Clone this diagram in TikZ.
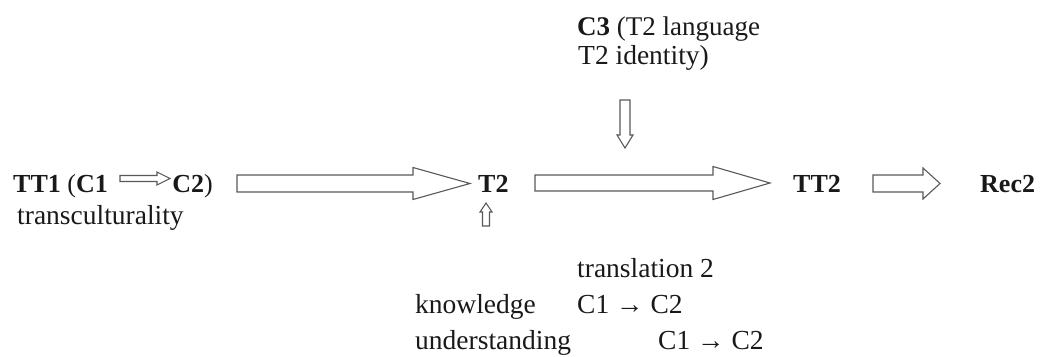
\documentclass[tikz,border=0pt]{standalone}
\usepackage{fontspec}
\setmainfont{Liberation Serif}
\usetikzlibrary{calc}

% hollow block arrow from #1 to #2: shaft half-width, head half-width, head length (pt)
\newcommand\fatarrow[5]{%
  \path (#2) coordinate (fa-tip) ($(#2)!#5pt!(#1)$) coordinate (fa-base);
  \draw[fat] ($(#1)!#3pt!90:(#2)$) -- ($(fa-base)!#3pt!90:(fa-tip)$)
    -- ($(fa-base)!#4pt!90:(fa-tip)$) -- (fa-tip)
    -- ($(fa-base)!#4pt!-90:(fa-tip)$) -- ($(fa-base)!#3pt!-90:(fa-tip)$)
    -- ($(#1)!#3pt!-90:(#2)$) -- cycle;}

\begin{document}
\begin{tikzpicture}[x=1pt,y=-1pt,
  lbl/.style={inner sep=0pt,anchor=base west,font=\fontsize{26}{30}\selectfont,text=black!90},
  txt/.style={lbl,font=\fontsize{27.5}{32}\selectfont},
  fat/.style={draw=black!65,line width=1.1pt,line join=miter,fill=white}]
\useasboundingbox (0,0) rectangle (1041,356);

% main row
\node[lbl] (tt1) at (13,192) {\textbf{TT1} (\textbf{C1}};
\node[lbl,anchor=base east] (c2) at (213,192) {\textbf{C2})};
\node[txt] (tc)  at (17,224) {transculturality};
\node[lbl] (t2)  at (478,192) {\textbf{T2}};
\node[lbl] (tt2) at (793,192) {\textbf{TT2}};
\node[lbl] (rec) at (980,192) {\textbf{Rec2}};

% influence from above
\node[txt,font=\fontsize{27}{32}\selectfont] (c3a) at (577,35) {\textbf{C3} (T2 language};
\node[txt] (c3b) at (578,64) {T2 identity)};

% translation block below
\node[txt] (tr)  at (577,277) {translation 2};
\node[txt] (kn)  at (415,313) {knowledge};
\node[txt] (kc)  at (577,313) {C1 → C2};
\node[txt] (un)  at (415,349) {understanding};
\node[txt] (uc)  at (658,349) {C1 → C2};

% arrow end points
\coordinate (a0s) at (120,178.5);
\coordinate (a0e) at (170,178.5);
\coordinate (a1s) at (237,183.5);
\coordinate (a1e) at (470,183.5);
\coordinate (a2s) at (535,183);
\coordinate (a2e) at (770,183);
\coordinate (a3s) at (873,183.5);
\coordinate (a3e) at (940,183.5);
\coordinate (dns) at (625,100);
\coordinate (dne) at (625,148);
\coordinate (ups) at (486,226);
\coordinate (upe) at (486,203);

\fatarrow{a0s}{a0e}{3}{6.5}{13}
\fatarrow{a1s}{a1e}{8.5}{16}{57}
\fatarrow{a2s}{a2e}{8}{16.5}{57}
\fatarrow{a3s}{a3e}{8.5}{15.5}{17}
\fatarrow{dns}{dne}{5}{8}{13}
\fatarrow{ups}{upe}{3.5}{6}{9}
\end{tikzpicture}
\end{document}
